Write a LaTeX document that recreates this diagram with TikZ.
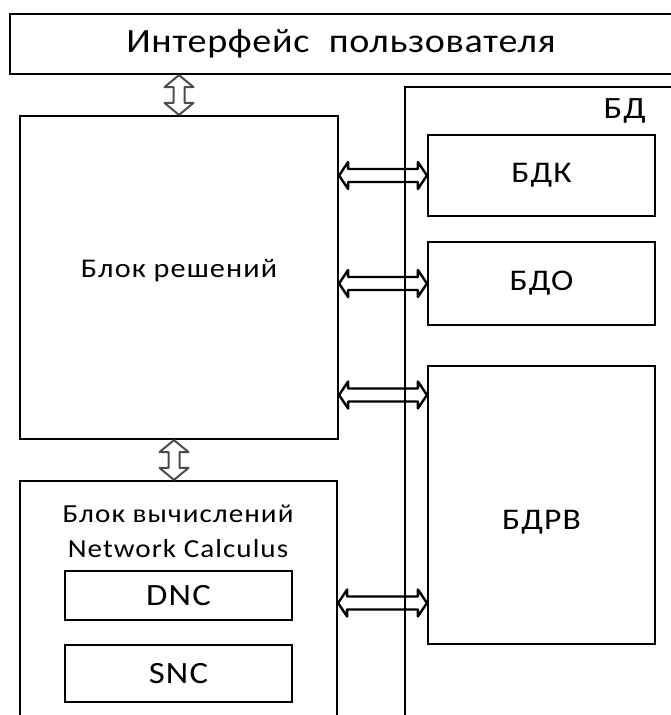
\documentclass[tikz,border=0pt]{standalone}
\usepackage{fontspec}
\setmainfont{Carlito}[FakeStretch=1.12, LetterSpace=2]
\newfontfamily\boxfont{Carlito}[FakeStretch=1.12, LetterSpace=4]
\usetikzlibrary{arrows.meta,positioning,calc}

\tikzset{
  % hollow two-headed block arrow: head length, head half width, shaft half width
  dblarrow/.style n args={3}{line join=round, to path={
    (\tikztostart)
    -- ($(\tikztostart)!#1!(\tikztotarget)!#2!90:(\tikztotarget)$)
    -- ($(\tikztostart)!#1!(\tikztotarget)!#3!90:(\tikztotarget)$)
    -- ($(\tikztotarget)!#1!(\tikztostart)!#3!-90:(\tikztostart)$)
    -- ($(\tikztotarget)!#1!(\tikztostart)!#2!-90:(\tikztostart)$)
    -- (\tikztotarget)
    -- ($(\tikztotarget)!#1!(\tikztostart)!#2!90:(\tikztostart)$)
    -- ($(\tikztotarget)!#1!(\tikztostart)!#3!90:(\tikztostart)$)
    -- ($(\tikztostart)!#1!(\tikztotarget)!#3!-90:(\tikztotarget)$)
    -- ($(\tikztostart)!#1!(\tikztotarget)!#2!-90:(\tikztotarget)$)
    -- cycle}}
}

\begin{document}
\begin{tikzpicture}[x=1pt, y=-1pt,
    box/.style={rectangle, draw, line width=2.2pt, inner sep=0pt},
    txt/.style={inner sep=0pt},
    vlink/.style={draw=black!70, fill=white, line width=2pt, dblarrow={12pt}{14.5pt}{5.5pt}},
    hlink/.style={draw=black, line width=2.4pt, dblarrow={9pt}{13.5pt}{6.5pt}}
]
\useasboundingbox (0,0) rectangle (670,715);

\node[box, minimum width=662pt, minimum height=60pt, font=\fontsize{34}{40}\selectfont] (ui) at (341,44) {Интерфейс\hspace{0.3em} пользователя};

% decision block
\node[box, minimum width=318pt, minimum height=323pt,
  label={[txt, yshift=7pt, font=\boxfont\fontsize{27}{32}\selectfont]center:Блок решений}] (solve) at (179,277.5) {};

% calculus block
\node[box, minimum width=317pt, minimum height=244pt] (calc) at (178.5,603) {};
\node[txt, anchor=base, font=\boxfont\fontsize{26}{30}\selectfont] (calc1) at (178,522) {Блок вычислений};
\node[txt, anchor=base, font=\boxfont\fontsize{26}{30}\selectfont] (calc2) at (178,557) {Network Calculus};
\node[box, minimum width=227pt, minimum height=49pt, font=\boxfont\fontsize{31}{36}\selectfont] (dnc) at (178.5,595.5) {DNC};
\node[box, minimum width=227pt, minimum height=57pt, font=\boxfont\fontsize{31}{36}\selectfont] (snc) at (178.5,673.5) {SNC};

% data base
\node[box, minimum width=270pt, minimum height=633pt] (bd) at (540,403.5) {};
\node[txt, anchor=base east, font=\boxfont\fontsize{31}{36}\selectfont] (bdname) at (646,118) {БД};
\node[box, minimum width=227pt, minimum height=81pt, font=\boxfont\fontsize{30}{34}\selectfont] (bdk) at (541.5,175.5) {БДК};
\node[box, minimum width=227pt, minimum height=83pt, font=\boxfont\fontsize{30}{34}\selectfont] (bdo) at (541.5,283.5) {БДО};
\node[box, minimum width=227pt, minimum height=278pt, label={[txt, yshift=-17pt, font=\boxfont\fontsize{30}{34}\selectfont]center:БДРВ}] (bdrv) at (541.5,505) {};

% arrow end points
\coordinate (up1) at (ui.south -| solve.north);
\coordinate (down1) at ([xshift=-5pt]solve.south);
\coordinate (down2) at (calc.north -| down1);
\coordinate (k1) at (solve.east |- bdk.west);
\coordinate (o1) at (solve.east |- bdo.west);
\coordinate (r1) at (solve.east |- 0,395);
\coordinate (r2) at (bdrv.west |- 0,395);
\coordinate (c1) at (calc.east |- 0,603);
\coordinate (c2) at (bdrv.west |- 0,603);

\draw[vlink] (up1) to (solve.north);
\draw[vlink] (down1) to (down2);

\draw[hlink] (k1) to (bdk.west);
\draw[hlink] (o1) to (bdo.west);
\draw[hlink] (r1) to (r2);
\draw[hlink] (c1) to (c2);

\end{tikzpicture}
\end{document}
